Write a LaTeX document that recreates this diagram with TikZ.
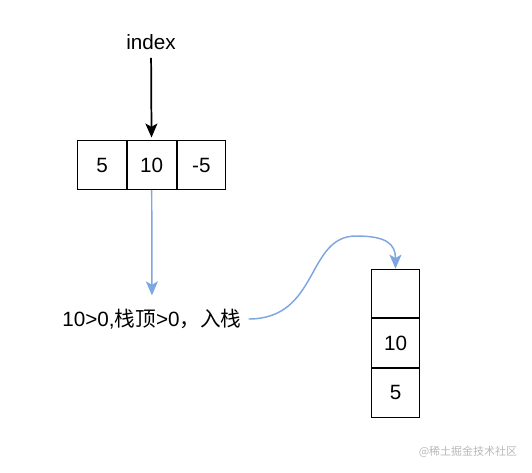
\documentclass[tikz,border=0pt]{standalone}
\usepackage{fontspec}
\setmainfont{Liberation Sans}
\newfontfamily\cjk{Noto Sans CJK SC}
\usepackage{tikz}
\usetikzlibrary{positioning}
\usetikzlibrary{arrows.meta}

\definecolor{linkblue}{HTML}{7EA6E0}

\begin{document}
\begin{tikzpicture}[x=0.75pt, y=-0.75pt,
    cellnode/.style={rectangle, draw=black, line width=0.75pt, minimum width=36.5pt, minimum height=36.5pt, inner sep=0pt, font=\fontsize{15.5pt}{18pt}\selectfont},
    labelnode/.style={inner sep=2pt, font=\fontsize{15.5pt}{18pt}\selectfont},
    blackarrow/.style={-{Stealth[length=10.5pt, width=9pt, inset=2.5pt]}, line width=1.3pt, black},
    bluearrow/.style={-{Stealth[length=10.5pt, width=9pt, inset=2.5pt]}, line width=1.1pt, linkblue}]
        \useasboundingbox (0,0) rectangle (532,472);

        \node[cellnode] (cell1) at (102,165) {5};
        \node[cellnode] (cell2) [right=0pt of cell1] {10};
        \node[cellnode] (cell3) [right=0pt of cell2] {-5};
        \node[labelnode] (index) at (151,42) {index};

        \node[labelnode] (cond) at (152,319) {10>0,{\cjk 栈顶}>0{\cjk ，入栈}};

        \node[cellnode] (stack1) at (395.5,293.5) {};
        \node[cellnode] (stack2) [below=0pt of stack1] {10};
        \node[cellnode] (stack3) [below=0pt of stack2] {5};

        \node[text=gray!55, font=\fontsize{8.25pt}{10pt}\selectfont\cjk] (mark) at (468,452) {@稀土掘金技术社区};

        \draw[blackarrow, shorten <=4pt, shorten >=2pt] (index) -- (cell2);
        \draw[bluearrow, shorten >=8pt] (cell2) -- (cond);
        \draw[bluearrow, shorten <=3pt] (cond.east) .. controls +(75,0) and +(-50,0) .. (356,236)
            .. controls +(30,0) and +(0,-25) .. (stack1.north);
    \end{tikzpicture}
\end{document}
